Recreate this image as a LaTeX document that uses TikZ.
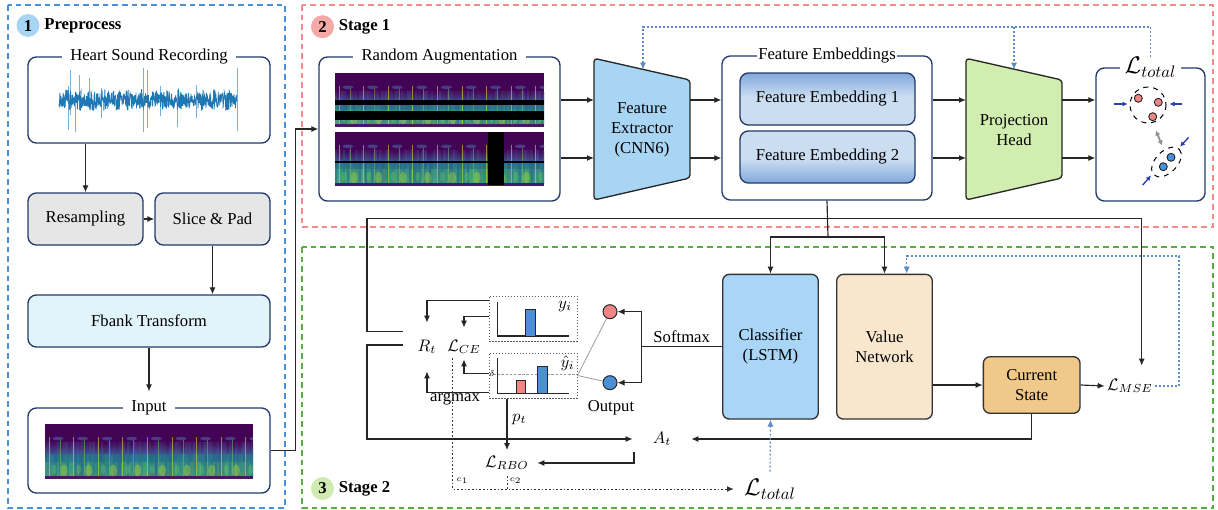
\documentclass[tikz,border=0pt]{standalone}
\usepackage{fontspec}
\setmainfont{Liberation Serif}
\usetikzlibrary{arrows.meta,calc}

\definecolor{navy}{HTML}{24396B}
\definecolor{procgray}{HTML}{E6E6E6}
\definecolor{fbankc}{HTML}{E1F4F9}
\definecolor{fxblue}{HTML}{A9D5F5}
\definecolor{phgreen}{HTML}{D2EDB0}
\definecolor{clsblue}{HTML}{A9D5F7}
\definecolor{valbeige}{HTML}{F9E7CD}
\definecolor{curorange}{HTML}{F0C88A}
\definecolor{feD}{HTML}{2F6FC2}
\definecolor{feL}{HTML}{CBDDF1}
\definecolor{pblue}{HTML}{4A90D9}
\definecolor{rpink}{HTML}{F28B8B}
\definecolor{ggreen}{HTML}{58AC45}
\definecolor{c1fill}{HTML}{A9D5F5}
\definecolor{c2fill}{HTML}{F4A8A8}
\definecolor{c3fill}{HTML}{CFEBB2}
\definecolor{fbblue}{HTML}{5B8CC6}
\definecolor{dotred}{HTML}{F08585}
\definecolor{dotblue}{HTML}{4A90D9}
\definecolor{arrblue}{HTML}{2A3FB0}
\definecolor{wave}{HTML}{1F77B4}
\definecolor{wavelt}{HTML}{7AAFD9}
% spectrogram palette (viridis-like)
\definecolor{spA}{HTML}{440456}
\definecolor{spB}{HTML}{3A4F8A}
\definecolor{spC}{HTML}{2A768E}
\definecolor{spD}{HTML}{33A07F}
\definecolor{spE}{HTML}{25518B}
\definecolor{spF}{HTML}{5A80BC}
\definecolor{spH}{HTML}{6CCB5E}
\definecolor{spBlob}{HTML}{466FA8}
\definecolor{spY}{HTML}{C8E020}

\pgfdeclareverticalshading{feTop}{100bp}{color(0bp)=(feL); color(52bp)=(feL); color(100bp)=(feD)}
\pgfdeclareverticalshading{feBot}{100bp}{color(0bp)=(feD); color(48bp)=(feL); color(100bp)=(feL)}

% spectrogram image: #1,#2 top-left corner, #3 width, #4 height
\newcommand{\specgram}[4]{%
  \begin{scope}
    \clip (#1,#2) rectangle ++(#3,#4);
    \fill[spA] (#1,#2) rectangle ++(#3,0.36*#4);
    \shade[top color=spA, bottom color=spB] (#1,#2+0.36*#4) rectangle ++(#3,0.2*#4);
    \shade[top color=spC, bottom color=spD] (#1,#2+0.56*#4) rectangle ++(#3,0.42*#4);
    \foreach \ci in {0,2,...,#3}{%
      \pgfmathsetmacro\spo{0.5*rnd}%
      \fill[spE, opacity=\spo] (#1+\ci,#2+0.56*#4) rectangle ++(2,0.42*#4);
      \pgfmathsetmacro\spr{0.35*rnd}%
      \fill[spH, opacity=\spr] (#1+\ci,#2+0.7*#4) rectangle ++(2,0.28*#4);
      \pgfmathsetmacro\spq{0.3*rnd}%
      \fill[spF, opacity=\spq] (#1+\ci,#2+0.34*#4) rectangle ++(2,0.22*#4);
    }
    \foreach \bk in {0,...,8}{%
      \pgfmathsetmacro\bx{#1+4+24.6*\bk}%
      \fill[spBlob, opacity=.55] (\bx+9,#2+0.27*#4) ellipse [x radius=5.5, y radius=1.8];
      \fill[spY, opacity=.35] (\bx+15,#2+0.86*#4) ellipse [x radius=3.5, y radius=6];
      \fill[spH, opacity=.35] (\bx+5,#2+0.84*#4) ellipse [x radius=2.5, y radius=5];
      \draw[spY, line width=0.5pt, opacity=.6] (\bx,#2+0.24*#4) -- (\bx,#2+#4);
      \draw[spH, line width=0.4pt, opacity=.5] (\bx+11,#2+0.3*#4) -- (\bx+11,#2+#4);
    }
    \fill[spA!70!spB] (#1,#2+0.965*#4) rectangle ++(#3,0.05*#4);
  \end{scope}}

\tikzset{
  sz/.style 2 args={minimum width=#1*0.6pt, minimum height=#2*0.6pt},
  tbox/.style={draw=navy, line width=0.8pt, rounded corners=5pt, fill=white, inner sep=0pt},
  ttl/.style={fill=white, inner xsep=5pt, inner ysep=1pt},
  gbox/.style={tbox, fill=procgray},
  mbox/.style={draw=black!80, line width=0.8pt, rounded corners=4pt, align=center, inner sep=0pt},
  trap/.style={draw=black!85, line width=0.8pt, rounded corners=2pt},
  fe/.style={draw=navy, line width=0.8pt, rounded corners=5pt, shade, inner sep=0pt},
  arr/.style={draw=black!85, line width=0.7pt, -{Latex[length=4.2pt,width=3.6pt]}},
  conn/.style={draw=black!85, line width=0.7pt},
  fbk/.style={draw=fbblue, line width=0.7pt, dash pattern=on 1.2pt off 1.2pt, -{Latex[length=4.2pt,width=3.8pt]}},
  dotln/.style={draw=black!80, line width=0.6pt, dash pattern=on 1pt off 1.2pt},
  dbox/.style={draw=black!65, line width=0.6pt, dash pattern=on 0.9pt off 0.9pt, inner sep=0pt},
  axisln/.style={draw=black!85, line width=0.7pt},
  bar/.style={draw=black!85, line width=0.5pt},
  numc/.style={circle, inner sep=0pt, minimum size=23*0.6pt, font=\bfseries},
  stagel/.style={anchor=west, inner sep=0pt, font=\bfseries},
  ocirc/.style={circle, draw=black!85, line width=0.6pt, minimum size=14*0.6pt, inner sep=0pt},
  mlbl/.style={inner sep=0pt},
  bdot/.style={draw=black!90, line width=0.5pt},
  squeeze/.style={draw=arrblue, line width=0.8pt, -{Latex[length=3pt,width=3pt]}},
  pframe/.style={draw=pblue, line width=1.5pt, dash pattern=on 3.4pt off 2.4pt},
  rframe/.style={draw=rpink, line width=1.5pt, dash pattern=on 3.4pt off 2.4pt},
  gframe/.style={draw=ggreen, line width=1.5pt, dash pattern=on 3.4pt off 2.4pt},
}

\begin{document}
\begin{tikzpicture}[x=0.6pt, y=-0.6pt, font=\fontsize{10}{12}\selectfont]
\useasboundingbox (0,0) rectangle (1218,510);
\pgfmathsetseed{12}

% ---------------- region frames ----------------
\draw[pframe] (8,5) rectangle (285,508);
\draw[rframe] (302,5) rectangle (1213,227);
\draw[gframe] (302,247) rectangle (1213,508);

\node[numc, fill=c1fill] (n1) at (28,25.5) {1};
\node[stagel] (t1) at ([xshift=2.5pt]n1.east) {Preprocess};
\node[numc, fill=c2fill] (n2) at (322.5,26.7) {2};
\node[stagel] (t2) at ([xshift=2.5pt]n2.east) {Stage 1};
\node[numc, fill=c3fill] (n3) at (322.5,488.5) {3};
\node[stagel] (t3) at ([xshift=2.5pt]n3.east) {Stage 2};

% ---------------- preprocessing ----------------
\node[tbox, sz={242}{86}] (hsr) at (149,100) {};
\node[ttl] (hsrttl) at (hsr.north) {Heart Sound Recording};
% recorded waveform
\foreach \sx/\sa/\sb in {68/86/130, 70/70/115, 75/94/132, 79/75/110, 89/78/110,
                         101/88/118, 143/68/132, 147/70/128, 160/86/116, 177/90/127,
                         196/85/118, 237/68/131}
  \draw[wavelt, line width=0.5pt] (\sx,\sa) -- (\sx,\sb);
\draw[wave, line width=0.45pt] plot[domain=59:237, samples=600, variable=\t]
  (\t, {100 + (6+5*abs(sin(\t*14.7)))*rand});

\node[gbox, sz={115}{52}] (resamp) at (85.5,219) {Resampling};
\node[gbox, sz={115}{52}] (slice) at (212.5,219) {Slice \& Pad};
\node[tbox, fill=fbankc, sz={242}{52}] (fbank) at (149,321) {Fbank Transform};
\node[tbox, sz={242}{85}] (input) at (149,450.5) {};
\node[ttl] (inputttl) at (input.north) {Input};
\specgram{45}{424}{208}{54}

\draw[arr] (resamp.north |- hsr.south) -- (resamp.north);
\draw[arr] (resamp.east) -- (slice.west);
\draw[arr] (slice.south) -- (slice.south |- fbank.north);
\draw[arr, shorten >=4pt] (fbank.south) -- (inputttl.north);

% ---------------- stage 1 ----------------
\node[tbox, sz={241}{144}] (raug) at (439.5,129) {};
\node[ttl] (raugttl) at (raug.north) {Random Augmentation};
\specgram{335}{73}{209}{53}
\fill[black] (335,99.7) rectangle (544,104.7);
\fill[black] (335,110.7) rectangle (544,120.3);
\specgram{335}{132}{209}{53}
\fill[black] (335,161.4) rectangle (544,163.2);
\fill[black] (488.3,132) rectangle (504,185);

\draw[arr] (input.east) -- ++(25,0) |- (raug.west);

% feature extractor
\filldraw[trap, fill=fxblue] (594,58.3) -- (690,80) -- (690,178) -- (594,200) -- cycle;
\node[align=center] (fx) at (642,129.5) {Feature\\Extractor\\(CNN6)};
\coordinate (fxin1) at (594,100);
\coordinate (fxin2) at (594,158);
\coordinate (fxout1) at (690,100);
\coordinate (fxout2) at (690,158);
\coordinate (fxtop) at (643,69.5);

\node[tbox, sz={210}{144}] (femb) at (827,128) {};
\node[ttl, inner xsep=1pt] (fembttl) at (femb.north) {Feature Embeddings};
\node[fe, shading=feTop, sz={175}{52}] (fe1) at (827.5,99) {Feature Embedding 1};
\node[fe, shading=feBot, sz={175}{52}] (fe2) at (827.5,157) {Feature Embedding 2};

% projection head
\filldraw[trap, fill=phgreen] (966,58.3) -- (1062,80) -- (1062,178) -- (966,200) -- cycle;
\node[align=center] (ph) at (1014,130) {Projection\\Head};
\coordinate (phin1) at (966,100);
\coordinate (phin2) at (966,158);
\coordinate (phout1) at (1062,100);
\coordinate (phout2) at (1062,158);
\coordinate (phtop) at (1014,69.5);

% contrastive loss box
\node[tbox, sz={109}{133}] (ltot) at (1150.5,134.5) {};
\node[ttl, inner xsep=3pt, inner ysep=0pt, font=\Large] (ltotttl) at (ltot.north) {$\mathcal{L}_{total}$};
\draw[dashed, line width=0.6pt] (1148,105) circle [radius=18];
\draw[dashed, line width=0.6pt, rotate around={45:(1166.5,162)}] (1166.5,162) ellipse [x radius=18, y radius=10.8];
\filldraw[bdot, fill=dotred] (1138.3,98.3) circle [radius=4];
\filldraw[bdot, fill=dotred] (1158.3,102.3) circle [radius=4];
\filldraw[bdot, fill=dotred] (1152.7,116.7) circle [radius=4];
\filldraw[bdot, fill=dotblue] (1171,157.3) circle [radius=4];
\filldraw[bdot, fill=dotblue] (1163.3,166.7) circle [radius=4];
\draw[squeeze] (1114,104) -- (1127.5,104);
\draw[squeeze] (1182,104) -- (1169.5,104);
\draw[squeeze] (1188.7,137.3) -- (1180,146.7);
\draw[squeeze] (1142.7,185) -- (1151,175.5);
\draw[draw=gray!85, line width=1.1pt, {Latex[length=3pt,width=3.4pt]}-{Latex[length=3pt,width=3.4pt]}] (1156,130.5) -- (1162,145.5);

% stage 1 connectors
\draw[arr] (raug.east |- fxin1) -- (fxin1);
\draw[arr] (raug.east |- fxin2) -- (fxin2);
\draw[arr] (fxout1) -- (femb.west |- fxout1);
\draw[arr] (fxout2) -- (femb.west |- fxout2);
\draw[arr] (femb.east |- phin1) -- (phin1);
\draw[arr] (femb.east |- phin2) -- (phin2);
\draw[arr] (phout1) -- (ltot.west |- phout1);
\draw[arr] (phout2) -- (ltot.west |- phout2);
\coordinate (fbturn) at (643,27);
\draw[fbk] (ltotttl.north) |- (fbturn) -- (fxtop);
\draw[fbk] (phtop |- fbturn) -- (phtop);

% ---------------- stage 2 ----------------
\node[mbox, fill=clsblue, sz={95.6}{144.7}] (cls) at (770.5,346.7) {Classifier\\(LSTM)};
\node[mbox, fill=valbeige, sz={95.6}{144.7}] (val) at (884.5,346.7) {Value\\Network};
\node[mbox, fill=curorange, sz={96.7}{56.6}] (cur) at (1031.7,385) {Current\\State};

\node[mlbl, sz={50}{40}] (lmse) at (1130,386) {$\mathcal{L}_{MSE}$};
\node[mlbl, sz={58}{26}] (at) at (662,439) {$A_t$};
\node[mlbl, sz={60}{25}] (lrbo) at (507,463) {$\mathcal{L}_{RBO}$};
\node[mlbl, sz={72}{34}, font=\Large] (ltot2) at (770,489) {$\mathcal{L}_{total}$};
\node[mlbl, sz={48}{48}] (rt) at (427,347) {$R_t$};
\node[mlbl, sz={30}{38}] (lce) at (464,347) {$\mathcal{L}_{CE}$};

% label distributions
\node[dbox, sz={88}{45}] (ybox) at (533,318.5) {};
\node[dbox, sz={88}{45}] (yhbox) at (533,375.5) {};
\draw[axisln] (497.3,301.7) -- (497.3,336) -- (569.3,336);
\filldraw[bar, fill=dotblue] (525.7,336) rectangle (535.3,309);
\node[mlbl] (ylab) at (565,306.5) {$y_i$};
\draw[gray!80, dash pattern=on 1.5pt off 1pt, line width=0.5pt] (493,374) -- (577,374);
\draw[axisln] (497.3,358.3) -- (497.3,393.3) -- (569.3,393.3);
\filldraw[bar, fill=dotred] (516,393.3) rectangle (525.7,380.5);
\filldraw[bar, fill=dotblue] (537.7,393.3) rectangle (547.7,366);
\node[mlbl] (yhlab) at (567.5,363) {$\hat{y}_i$};
\node[mlbl, font=\tiny] (dlt) at (492,374) {$\delta$};

% output neurons
\node[ocirc, fill=dotred] (ored) at (610,311.7) {};
\node[ocirc, fill=dotblue] (oblue) at (610,382.7) {};
\node[mlbl] (outlbl) at (611,408) {Output};
\node[mlbl] (smlbl) at (681.7,336.5) {Softmax};
\node[mlbl] (amlbl) at (455,399) {argmax};
\node[mlbl] (ptlbl) at (519.3,419.3) {$p_t$};
\node[mlbl, font=\tiny] (c1lbl) at (462.3,480.5) {$c_1$};
\node[mlbl, font=\tiny] (c2lbl) at (515.5,480.5) {$c_2$};

% stage 2 connectors
\coordinate (tl) at (367,218.3);
\coordinate (tr) at (1141.7,218.3);
\coordinate (j2) at (828,237);
\draw[conn] (femb.south) -- (j2);
\draw[arr] (j2) -| (cls.north);
\draw[arr] (j2) -| (val.north);
\draw[conn] (tr) -- (tl) |- ($(rt.west)+(0,-15.3)$);
\draw[arr] (tr) -- (tr |- lmse.north);
\draw[arr] ($(rt.west)+(0,-2)$) -| (tl |- at) -- (at.west);
\draw[arr] (cur.south) |- (at.east);
\draw[arr] ([xshift=0.8pt]at.south west) |- (lrbo.east);
\draw[arr] (val.east |- cur.west) -- (cur.west);
\draw[arr] (cur.east) -- (lmse.west);
\coordinate (fb2) at (1179,256);
\draw[fbk] (lmse.east) -| (fb2) -| ([xshift=22.2*0.6pt]val.north);
\coordinate (smx) at (641.7,346.7);
\draw[conn] (cls.west) -- (smx);
\draw[arr] (smx) |- (ored.east);
\draw[arr] (smx) |- (oblue.east);
\draw[gray!75, line width=0.5pt] (yhbox.east) -- (ored);
\draw[gray!75, line width=0.5pt] (yhbox.east) -- (oblue);
\draw[arr] ($(ybox.north west)+(0,5)$) -| (rt.north);
\draw[arr] ($(ybox.north west)+(0,21)$) -| (lce.north);
\draw[arr] ($(yhbox.north west)+(0,21)$) -| ($(lce.south)+(0,-7)$);
\draw[arr] ($(yhbox.south west)+(0,-6)$) -| (rt.south);
\draw[arr] (lrbo.north |- yhbox.south) -- (lrbo.north);
\coordinate (c1top) at (452.7,358);
\draw[dotln, -{Latex[length=4pt,width=3.6pt]}] (c1top) |- (ltot2.west);
\draw[dotln] (lrbo.south) -- (lrbo.south |- ltot2.west);
\draw[fbk] (ltot2.north) -- (cls.south);
\end{tikzpicture}
\end{document}
